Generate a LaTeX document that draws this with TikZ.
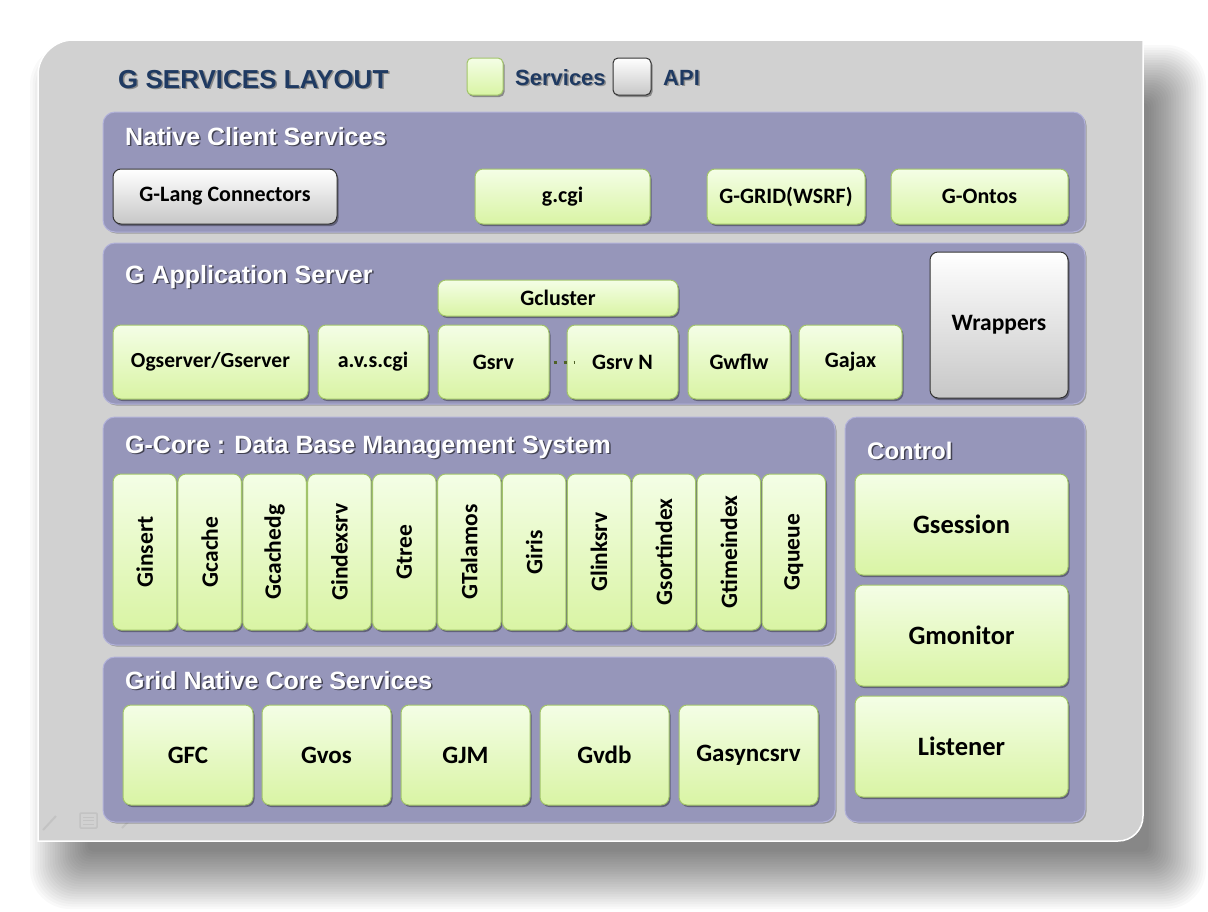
\documentclass[tikz,border=0pt]{standalone}
\usepackage{fontspec}
\setmainfont{Carlito}
\newfontfamily\arialf{Liberation Sans}
\usetikzlibrary{shadows}
\definecolor{panelgray}{HTML}{D1D1D1}
\definecolor{purp}{HTML}{9696BA}
\definecolor{purpedge}{HTML}{B2B2DA}
\definecolor{gtop}{HTML}{F4FEE6}
\definecolor{gbot}{HTML}{D9F4A4}
\definecolor{gedge}{HTML}{A2C46A}
\definecolor{navy}{HTML}{1F3A62}
\definecolor{dotc}{HTML}{4F6228}
\definecolor{faint}{HTML}{C3C3C3}
\tikzset{
 boxshadow/.style={drop shadow={shadow xshift=1.5pt, shadow yshift=-2pt, opacity=0.35, fill=black}},
 gbox/.style={draw=gedge, line width=1pt, rounded corners=8pt, top color=gtop, bottom color=gbot, inner sep=0pt, font=\bfseries\fontsize{22}{26}\selectfont, boxshadow},
 abox/.style={draw=black!80, line width=1pt, rounded corners=8pt, top color=white, bottom color=black!22, inner sep=0pt, font=\bfseries\fontsize{22}{26}\selectfont, boxshadow},
 panel/.style={fill=purp, draw=purpedge, line width=1pt, rounded corners=12pt, inner sep=0pt, drop shadow={shadow xshift=1.5pt, shadow yshift=-1.5pt, opacity=0.25, fill=black}},
 ttl/.style={anchor=base west, inner sep=0pt, text=white, font=\arialf\bfseries\fontsize{25}{29}\selectfont},
 ttlsh/.style={ttl, text=black, text opacity=0.55},
 fs/.style={font=\bfseries\fontsize{#1}{#1}\selectfont},
 legtxt/.style={anchor=base west, inner sep=0pt, text=navy, font=\arialf\bfseries\fontsize{22}{26}\selectfont},
 dotlink/.style={draw=dotc, line width=3pt, dash pattern=on 3pt off 7pt},
}
\newcommand{\boxat}[7]{%
 \pgfmathsetmacro\bw{#5-#3}\pgfmathsetmacro\bh{#6-#4}%
 \node[#1, minimum width=\bw pt, minimum height=\bh pt] (#2) at ({(#3+#5)/2},{(#4+#6)/2}) {#7};}
\newcommand{\ptitle}[5][]{%
 \node[ttlsh,#1] at (#3+1.5,#4+1.5) {#5};
 \node[ttl,#1] (#2) at (#3,#4) {#5};}
\begin{document}
\begin{tikzpicture}[x=1pt,y=-1pt]
\useasboundingbox (0,0) rectangle (1208,911);
\fill[white] (0,0) rectangle (1208,911);
% main shadow
\foreach \k in {0,...,23}{
  \fill[black, opacity=0.024, rounded corners={40-1.5*\k}]
   ({30+2.5*\k},{45+2.5*\k}) rectangle ({1206-2.5*\k},{909-2.5*\k});
}
% main panel
\fill[panelgray] (38,841) -- (38,75) .. controls (38,56) and (54,40) .. (73,40) -- (1143,40) -- (1143,816) .. controls (1143,830) and (1132,841) .. (1118,841) -- cycle;
\draw[white, line width=1.5pt] (38,841) -- (38,75) .. controls (38,56) and (54,40) .. (73,40) -- (1143,40) -- (1143,816) .. controls (1143,830) and (1132,841) .. (1118,841) -- cycle;
% faint slide icons
\draw[faint, line width=2pt] (43,830) -- (56,816);
\draw[faint, line width=1.5pt, rounded corners=1pt] (80,813) rectangle (97,828);
\foreach \yy in {817,820.5,824} \draw[faint, line width=1pt] (83,\yy) -- (94,\yy);
\draw[faint, line width=2.5pt] (116,821) -- (127,821);
\draw[faint, line width=2pt] (122,814) -- (129,821) -- (122,828);
% title and legend
\node[anchor=base west, inner sep=0pt, text=black, text opacity=0.35, font=\arialf\bfseries\fontsize{26}{30}\selectfont] at (119.5,89.5) {G SERVICES LAYOUT};
\node[anchor=base west, inner sep=0pt, text=navy, font=\arialf\bfseries\fontsize{26}{30}\selectfont] (title) at (118,88) {G SERVICES LAYOUT};
\boxat{gbox, rounded corners=5pt}{legs}{467}{58}{503}{95}{}
\node[legtxt, text=black, text opacity=0.3] at (516.5,86.5) {Services};
\node[legtxt] (legstxt) at (515,85) {Services};
\boxat{abox, rounded corners=5pt}{lega}{613}{58}{651}{95}{}
\node[legtxt, text=black, text opacity=0.3] at (664.5,86.5) {API};
\node[legtxt] (legatxt) at (663,85) {API};
% panels
\boxat{panel}{ncs}{103}{112}{1085}{232}{}
\boxat{panel}{gas}{103}{243}{1085}{404}{}
\boxat{panel}{gcore}{103}{417}{835}{645}{}
\boxat{panel}{grid}{103}{657}{835}{822}{}
\boxat{panel}{ctrl}{845}{417}{1085}{822}{}
\ptitle{ncst}{125}{145}{Native Client Services}
\ptitle{gast}{125}{283}{G Application Server}
\ptitle{gcoret}{125}{453}{G-Core : Data Base Management System}
\ptitle{gridt}{125}{689}{Grid Native Core Services}
\ptitle[font=\arialf\bfseries\fontsize{24}{28}\selectfont]{ctrlt}{867}{459}{Control}
% native client services
\boxat{abox}{glang}{113}{169}{337}{224}{G-Lang Connectors}
\boxat{gbox}{gcgi}{475}{169}{650}{224}{g.cgi}
\boxat{gbox}{ggrid}{707}{169}{865}{224}{G-GRID(WSRF)}
\boxat{gbox}{gontos}{891}{169}{1068}{224}{G-Ontos}
% application server
\boxat{gbox}{gcluster}{438}{280}{678}{316}{Gcluster}
\boxat{gbox,fs=21.5}{ogserver}{113}{325}{308}{399}{Ogserver/Gserver}
\boxat{gbox}{avs}{318}{325}{428}{399}{a.v.s.cgi}
\boxat{gbox}{gsrv}{438}{325}{549}{399}{Gsrv}
\boxat{gbox}{gsrvn}{567}{325}{678}{399}{Gsrv N}
\boxat{gbox}{gwflw}{688}{325}{790}{399}{Gwflw}
\boxat{gbox}{gajax}{799}{325}{902}{399}{Gajax}
\boxat{abox,fs=23.5}{wrappers}{930}{252}{1068}{398}{Wrappers}
\draw[dotlink] ([xshift=4pt]gsrv.east) -- ([xshift=8pt]gsrvn.west);
% core
\foreach \t [count=\i from 0] in {Ginsert,Gcache,Gcachedg,Gindexsrv,Gtree,GTalamos,Giris,Glinksrv,Gsortindex,Gtimeindex,Gqueue}{
  \pgfmathsetmacro\xl{113+\i*64.9}\pgfmathsetmacro\xr{\xl+63.5}
  \boxat{gbox,fs=23.5}{core\i}{\xl}{474}{\xr}{630}{\rotatebox{90}{\t}}
}
% grid native core
\boxat{gbox,fs=25}{gfc}{123}{705}{253}{805}{GFC}
\boxat{gbox,fs=25}{gvos}{262}{705}{391}{805}{Gvos}
\boxat{gbox,fs=25}{gjm}{401}{705}{530}{805}{GJM}
\boxat{gbox,fs=25}{gvdb}{540}{705}{669}{805}{Gvdb}
\boxat{gbox,fs=25}{gasync}{679}{705}{818}{805}{Gasyncsrv}
% control
\boxat{gbox,fs=26.5}{gsession}{855}{474}{1068}{575}{Gsession}
\boxat{gbox,fs=26.5}{gmonitor}{855}{585}{1068}{686}{Gmonitor}
\boxat{gbox,fs=26.5}{listener}{855}{696}{1068}{797}{Listener}
\end{tikzpicture}
\end{document}
